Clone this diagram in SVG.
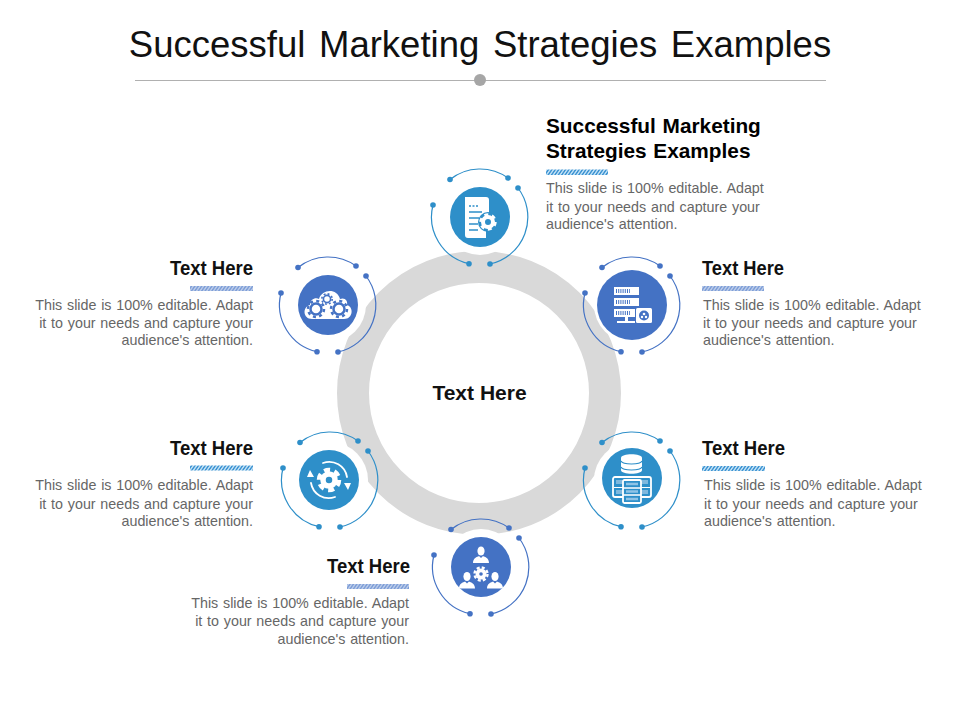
<svg xmlns="http://www.w3.org/2000/svg" width="960" height="720" viewBox="0 0 960 720">
<style>
text{font-family:"Liberation Sans",Arial,sans-serif}
.title{font-size:36.5px;fill:#111;word-spacing:3.5px}
.h{font-size:21px;font-weight:700;fill:#111}
.hw{font-size:20.8px;font-weight:700;fill:#000;word-spacing:1px}
.b{font-size:14.3px;fill:#666;word-spacing:.8px}
.e{text-anchor:end}
.teal{color:#2E8FC9}
.blue{color:#4472C4}
.w{fill:#fff}
.wl{fill:none;stroke:#fff;stroke-linecap:round}
.a{fill:none;stroke:currentColor;stroke-width:1.2}
.d{fill:currentColor}
.disc{fill:currentColor}
</style>
<defs>
<pattern id="hatch" width="3.4" height="6" patternUnits="userSpaceOnUse" patternTransform="skewX(-35)">
<rect width="3.4" height="6" fill="#BFE0F5"/><rect width="1.7" height="6" fill="#3F94D2"/>
</pattern>
<pattern id="hatch2" width="3.4" height="6" patternUnits="userSpaceOnUse" patternTransform="skewX(-35)">
<rect width="3.4" height="6" fill="#B9CAE8"/><rect width="1.7" height="6" fill="#7F9FD8"/>
</pattern>
<g id="halo">
<path class="a" d="M-30,-37.5A48,48 0 0 1 28,-39"/>
<path class="a" d="M38,-29A48,48 0 0 1 10,47"/>
<path class="a" d="M-47,-12A48,48 0 0 0 -11,46.7"/>
<circle class="d" cx="-30" cy="-37.5" r="2.8"/><circle class="d" cx="28" cy="-39" r="2.8"/>
<circle class="d" cx="38" cy="-29" r="2.8"/><circle class="d" cx="10" cy="47" r="2.8"/>
<circle class="d" cx="-47" cy="-12" r="2.8"/><circle class="d" cx="-11" cy="46.7" r="2.8"/>
</g>
<g id="person">
<ellipse cx="0" cy="-6" rx="3.6" ry="4.6" class="w"/>
<path class="w" d="M-8,6C-8,1 -4,0 -2,-1L0,1L2,-1C4,0 8,1 8,6Z"/>
</g>
<g id="bgear">
<circle r="5.5" fill="none" stroke="#4472C4" stroke-width="2.5"/>
<circle r="8" fill="none" stroke="#4472C4" stroke-width="2.5" stroke-dasharray="3 3.28"/>
</g>
</defs>

<g id="title">
<text class="title" x="480" y="57" text-anchor="middle">Successful Marketing Strategies Examples</text>
<path d="M135,80.500H826" stroke="#B0B0B0" stroke-width="1" fill="none"/>
<circle cx="480" cy="80" r="6" fill="#A6A6A6"/>
</g>

<g id="center">
<circle cx="479" cy="393" r="126" fill="none" stroke="#D9D9D9" stroke-width="32"/>
<text x="479.500" y="400" text-anchor="middle" class="h">Text Here</text>
</g>

<g id="node-top" class="teal" transform="translate(480,217)">
<circle class="w" r="38"/><use href="#halo"/><circle class="disc" r="30"/>
<path class="w" d="M-15,-20H6Q9,-20 9,-17V-4L6,2V21H-12Q-15,21 -15,18Z"/>
<path d="M-11,-11h2M-7.500,-11h2M-4,-11h2M-11,-5h13M-11,1h10M-11,7h9M-11,13h9" stroke="#2E8FC9" stroke-width="1.500" fill="none"/>
<circle cx="8" cy="5" r="10" fill="#2E8FC9"/>
<circle cx="8" cy="5" r="5" fill="none" stroke="#fff" stroke-width="4"/>
<circle cx="8" cy="5" r="7.500" fill="none" stroke="#fff" stroke-width="2.400" stroke-dasharray="4 3.850"/>
</g>

<g id="node-top-right" class="blue" transform="translate(632,305)">
<circle class="w" r="38"/><use href="#halo"/><circle class="disc" r="35"/>
<path class="w" d="M-18,-18H7V-10H-18ZM-18,-7H7V1H-18ZM-18,4H7V12H-18Z"/>
<path d="M-16,-14h14M-16,-3h14M-16,8h14" stroke="#4472C4" stroke-width="4" stroke-dasharray="1 1.200" fill="none"/>
<path class="w" d="M-7,12h3v4h8v2h-19v-2h8z"/>
<rect x="3" y="2" width="18" height="17" fill="#4472C4"/>
<rect class="w" x="4" y="3" width="16" height="15" rx="1.500"/>
<circle cx="12" cy="10.500" r="5" fill="#4472C4"/>
<circle cx="12" cy="9" r="1.300" class="w"/><circle cx="10" cy="12" r="1.200" class="w"/><circle cx="14" cy="12" r="1.200" class="w"/>
</g>

<g id="node-bottom-right" class="teal" transform="translate(632,480)">
<circle class="w" r="38"/><use href="#halo"/><circle class="disc" r="30" cy="-2"/>
<path class="w" d="M-11,-22C-11,-27 10,-27 10,-22V-10C10,-5 -11,-5 -11,-10Z"/>
<path d="M-11,-19C-9,-15 8,-15 10,-19M-11,-13C-9,-9 8,-9 10,-13" fill="none" stroke="#2E8FC9" stroke-width="1.200"/>
<rect x="-19" y="-3" width="38" height="20" rx="2" fill="#2E8FC9" stroke="#fff" stroke-width="1.800"/>
<path d="M-18,7.500H18" stroke="#fff" stroke-width="1.200"/>
<path d="M-16,2h7M9,2h7M-16,12h7M9,12h7" stroke="#7FB8DE" stroke-width="4" fill="none"/>
<rect x="-9" y="0" width="18" height="23" rx="1.500" fill="#2E8FC9" stroke="#fff" stroke-width="1.800"/>
<path d="M-9,8h18M-9,15h18" stroke="#fff" stroke-width="1.500" fill="none"/>
<path d="M-6,4h12M-6,11.500h12M-6,19h12" stroke="#8FC3E6" stroke-width="2.500" fill="none"/>
</g>

<g id="node-bottom" class="blue" transform="translate(481,567)">
<circle class="w" r="38"/><use href="#halo"/><circle class="disc" r="30"/>
<use href="#person" transform="translate(0,-10)"/>
<use href="#person" transform="translate(-14,15.500)"/>
<use href="#person" transform="translate(14,15.500)"/>
<circle cy="7" r="5.500" class="w"/>
<circle cy="7" r="6.500" fill="none" stroke="#fff" stroke-width="2.400" stroke-dasharray="3 2.100"/>
<circle cy="7" r="1.800" fill="#4472C4"/>
</g>

<g id="node-bottom-left" class="teal" transform="translate(330,480)">
<circle class="w" r="38"/><use href="#halo"/><circle class="disc" r="30" cx="-1"/>
<circle cx="-1" r="6" fill="none" stroke="#fff" stroke-width="5.500"/>
<circle cx="-1" r="10" fill="none" stroke="#fff" stroke-width="4.500" stroke-dasharray="6 4.470"/>
<path class="wl" stroke-width="1.800" d="M-7,-17A18,18 0 0 1 17,-3M5,17A18,18 0 0 1 -19,3"/>
<path class="w" d="M14,3L21,3L18,10ZM-16,-3L-23,-3L-20,-10Z"/>
</g>

<g id="node-top-left" class="blue" transform="translate(328,305)">
<circle class="w" r="38"/><use href="#halo"/><circle class="disc" r="30"/>
<path class="w" d="M-16,14C-25,14 -26,2 -18,0C-18,-5 -13,-8 -9,-6C-6,-16 9,-17 12,-6C17,-8 20,-4 19,0C26,2 25,14 16,14Z"/>
<use href="#bgear" transform="translate(-12,4)"/>
<use href="#bgear" transform="translate(11,4)"/>
<use href="#bgear" transform="translate(-1,-6) scale(.65)"/>
</g>

<g id="text-top">
<text class="hw" x="546" y="133">Successful Marketing</text>
<text class="hw" x="546" y="158">Strategies Examples</text>
<rect x="546" y="169.500" width="62" height="5.500" fill="url(#hatch)"/>
<text class="b" x="546" y="193">This slide is 100% editable. Adapt</text>
<text class="b" x="546" y="212">it to your needs and capture your</text>
<text class="b" x="546" y="229">audience's attention.</text>
</g>

<g id="text-top-right">
<text class="h" x="702" y="275" textLength="82" lengthAdjust="spacingAndGlyphs">Text Here</text>
<rect x="702" y="286" width="62" height="5" fill="url(#hatch2)"/>
<text class="b" x="703" y="310">This slide is 100% editable. Adapt</text>
<text class="b" x="703" y="328">it to your needs and capture your</text>
<text class="b" x="703" y="345">audience's attention.</text>
</g>

<g id="text-bottom-right">
<text class="h" x="702" y="455" textLength="83" lengthAdjust="spacingAndGlyphs">Text Here</text>
<rect x="702" y="466" width="63" height="5" fill="url(#hatch)"/>
<text class="b" x="704" y="490">This slide is 100% editable. Adapt</text>
<text class="b" x="704" y="509">it to your needs and capture your</text>
<text class="b" x="704" y="526">audience's attention.</text>
</g>

<g id="text-bottom">
<text class="h" x="327" y="573" textLength="83" lengthAdjust="spacingAndGlyphs">Text Here</text>
<rect x="347" y="584" width="62" height="5" fill="url(#hatch2)"/>
<text class="b e" x="409" y="608">This slide is 100% editable. Adapt</text>
<text class="b e" x="409" y="626">it to your needs and capture your</text>
<text class="b e" x="409" y="644">audience's attention.</text>
</g>

<g id="text-bottom-left">
<text class="h" x="170" y="455" textLength="83" lengthAdjust="spacingAndGlyphs">Text Here</text>
<rect x="190" y="465.500" width="63" height="5" fill="url(#hatch)"/>
<text class="b e" x="253" y="490">This slide is 100% editable. Adapt</text>
<text class="b e" x="253" y="509">it to your needs and capture your</text>
<text class="b e" x="253" y="526">audience's attention.</text>
</g>

<g id="text-top-left">
<text class="h" x="170" y="275" textLength="83" lengthAdjust="spacingAndGlyphs">Text Here</text>
<rect x="190" y="286" width="63" height="5" fill="url(#hatch2)"/>
<text class="b e" x="253" y="310">This slide is 100% editable. Adapt</text>
<text class="b e" x="253" y="328">it to your needs and capture your</text>
<text class="b e" x="253" y="345">audience's attention.</text>
</g>
</svg>
